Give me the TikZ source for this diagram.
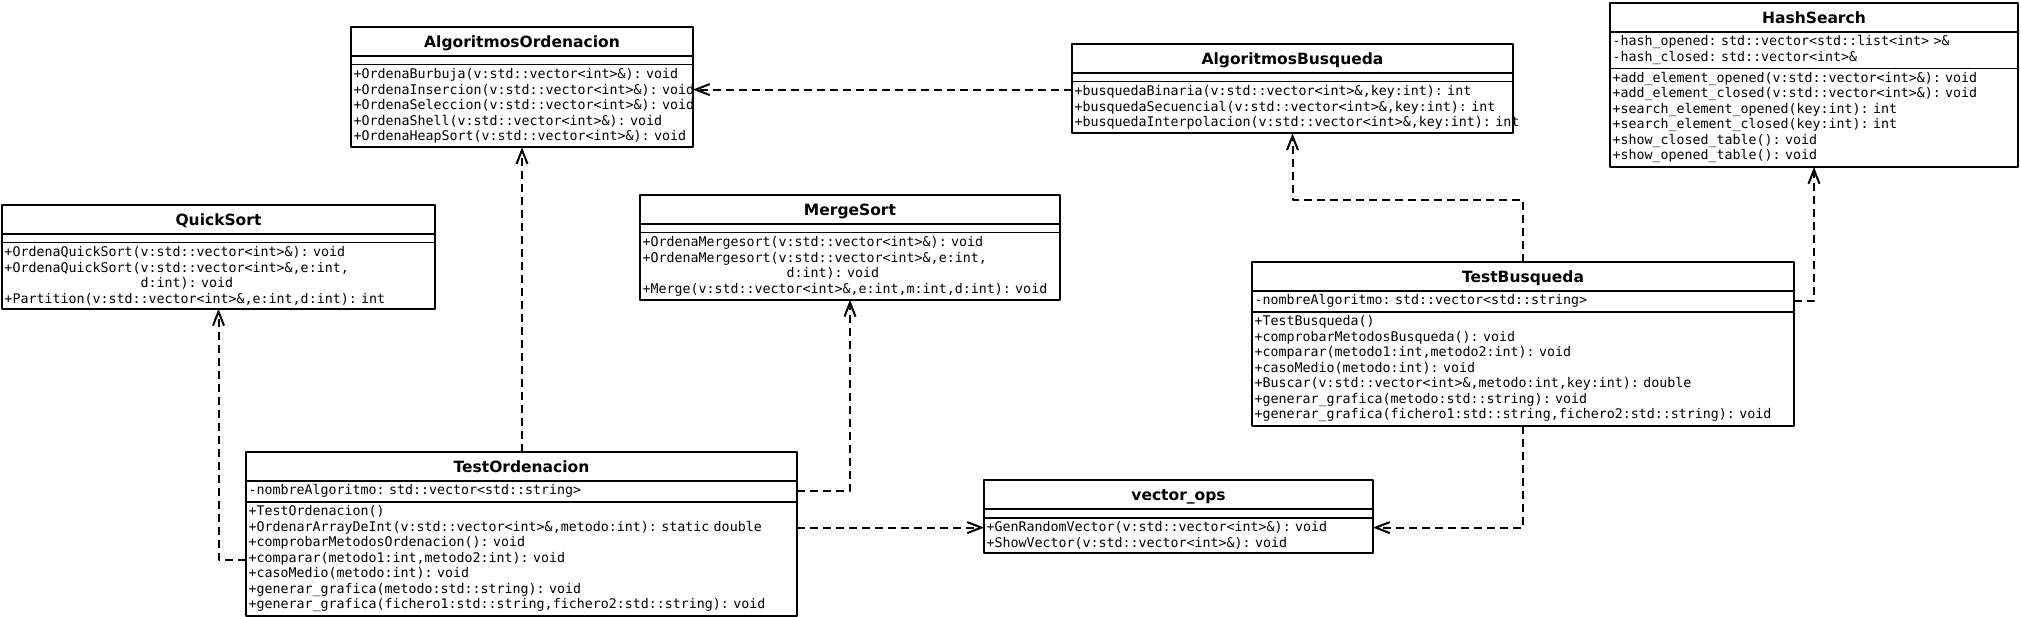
\documentclass[tikz,border=0pt]{standalone}
\usepackage{fontspec}
\setsansfont{DejaVu Sans}
\setmonofont{DejaVu Sans Mono}
\usetikzlibrary{shapes.multipart,arrows.meta}
\newcommand\hd[1]{\centering\sffamily\bfseries\fontsize{15.5}{18}\selectfont\rule[-4pt]{0pt}{21pt}#1\par}
\newcommand\emptypart{\rule{0pt}{1pt}}
\newcommand\monosp{\spaceskip=0.602em\relax\xspaceskip=0.602em\relax}
\begin{document}
\frenchspacing
\begin{tikzpicture}[x=1pt, y=-1pt, line join=round, >={Straight Barb[length=14pt,width=11pt]},
  classbox/.style={draw, line width=1.8pt, rectangle split, rectangle split parts=3,
    rectangle split ignore empty parts=false, anchor=north west, outer sep=0pt,
    inner xsep=2.5pt, inner ysep=3pt, font=\ttfamily\fontsize{13.3}{15.5}\selectfont\monosp},
  dep/.style={->, line width=2pt, dash pattern=on 8pt off 5pt}]
\useasboundingbox (0,0) rectangle (2021,617);
\node[classbox, text width=337pt] (ao) at (351,27) {\hd{AlgoritmosOrdenacion}
  \nodepart{two}\emptypart
  \nodepart{three}+OrdenaBurbuja(v:std::vector<int>\&): void\\
  \mbox{+OrdenaInsercion(v:std::vector<int>\&): void}\\
  \mbox{+OrdenaSeleccion(v:std::vector<int>\&): void}\\
  +OrdenaShell(v:std::vector<int>\&): void\\
  +OrdenaHeapSort(v:std::vector<int>\&): void};
\node[classbox, text width=436pt] (ab) at (1072,44) {\hd{AlgoritmosBusqueda}
  \nodepart{two}\emptypart
  \nodepart{three}+busquedaBinaria(v:std::vector<int>\&,key:int): int\\
  +busquedaSecuencial(v:std::vector<int>\&,key:int): int\\
  \mbox{+busquedaInterpolacion(v:std::vector<int>\&,key:int): int}};
\node[classbox, text width=403pt] (hs) at (1610,3) {\hd{HashSearch}
  \nodepart{two}-hash\_opened: std::vector<std::list<int> >\&\\
  -hash\_closed: std::vector<int>\&
  \nodepart{three}+add\_element\_opened(v:std::vector<int>\&): void\\
  +add\_element\_closed(v:std::vector<int>\&): void\\
  +search\_element\_opened(key:int): int\\
  +search\_element\_closed(key:int): int\\
  +show\_closed\_table(): void\\
  +show\_opened\_table(): void};
\node[classbox, text width=428pt] (qs) at (2,205) {\hd{QuickSort}
  \nodepart{two}\emptypart
  \nodepart{three}+OrdenaQuickSort(v:std::vector<int>\&): void\\
  +OrdenaQuickSort(v:std::vector<int>\&,e:int,\\
  \phantom{+OrdenaQuickSort(}d:int): void\\
  +Partition(v:std::vector<int>\&,e:int,d:int): int};
\node[classbox, text width=415pt] (ms) at (640,195) {\hd{MergeSort}
  \nodepart{two}\emptypart
  \nodepart{three}+OrdenaMergesort(v:std::vector<int>\&): void\\
  +OrdenaMergesort(v:std::vector<int>\&,e:int,\\
  \phantom{+OrdenaMergesort(v}d:int): void\\
  +Merge(v:std::vector<int>\&,e:int,m:int,d:int): void};
\node[classbox, text width=537pt] (tb) at (1252,262) {\hd{TestBusqueda}
  \nodepart{two}-nombreAlgoritmo: std::vector<std::string>
  \nodepart{three}+TestBusqueda()\\
  +comprobarMetodosBusqueda(): void\\
  +comparar(metodo1:int,metodo2:int): void\\
  +casoMedio(metodo:int): void\\
  +Buscar(v:std::vector<int>\&,metodo:int,key:int): double\\
  +generar\_grafica(metodo:std::string): void\\
  +generar\_grafica(fichero1:std::string,fichero2:std::string): void};
\node[classbox, text width=546pt] (to) at (246,452) {\hd{TestOrdenacion}
  \nodepart{two}-nombreAlgoritmo: std::vector<std::string>
  \nodepart{three}+TestOrdenacion()\\
  +OrdenarArrayDeInt(v:std::vector<int>\&,metodo:int): static double\\
  +comprobarMetodosOrdenacion(): void\\
  +comparar(metodo1:int,metodo2:int): void\\
  +casoMedio(metodo:int): void\\
  +generar\_grafica(metodo:std::string): void\\
  +generar\_grafica(fichero1:std::string,fichero2:std::string): void};
\node[classbox, text width=384pt] (vo) at (984,480) {\hd{vector\_ops}
  \nodepart{two}\emptypart
  \nodepart{three}+GenRandomVector(v:std::vector<int>\&): void\\
  +ShowVector(v:std::vector<int>\&): void};
\coordinate (abin) at ([yshift=-8pt]ab.two split west);
\coordinate (voin) at ([yshift=-10pt]vo.two split west);
\coordinate (voout) at ([yshift=-10pt]vo.two split east);
\draw[dep] (abin) -- (abin -| ao.east);
\draw[dep] (ao.south |- to.north) -- (ao.south);
\draw[dep] ([yshift=-58pt]to.two split west) -| (qs.south);
\draw[dep] ([yshift=-10pt]to.text split east) -| (ms.south);
\draw[dep] (voin -| to.east) -- (voin);
\draw[dep] (tb.south) |- (voout);
\draw[dep] (tb.north) -- ++(0,-62) -| (ab.south);
\draw[dep] ([yshift=-10pt]tb.text split east) -| (hs.south);
\end{tikzpicture}
\end{document}
